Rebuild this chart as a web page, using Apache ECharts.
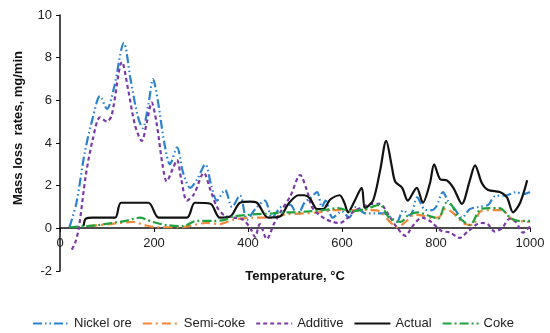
<!DOCTYPE html>
<html><head><meta charset="utf-8">
<script src="https://cdn.jsdelivr.net/npm/echarts@6/dist/echarts.min.js"></script>
<style>html,body{margin:0;padding:0;background:#fff}#c{width:550px;height:333px}</style>
</head><body><div id="c"></div>
<script>
var xTicks = [0, 200, 400, 600, 800, 1000];
var yTicks = [-2, 0, 2, 4, 6, 8, 10];

var nickelT = [20,35,53,70,85,100,115,136,150,165,176,188,198,208,222,234,249,262,277,292,309,322,334,351,366,383,398,415,436,451,470,490,505,520,532,547,557,565,580,600,615,630,650,670,690,705,717,730,745,760,775,790,800,815,825,840,855,872,890,911,925,951,970,985,1000];
var nickelV = [0.05,1.2,3.6,5.2,6.2,5.6,6.6,8.7,7.0,5.3,4.7,5.8,7.0,6.0,4.0,3.0,3.8,2.6,1.9,2.3,3.0,2.0,1.3,1.8,1.0,1.55,0.4,0.9,1.3,0.5,1.0,1.1,0.6,1.2,1.4,1.7,1.0,1.3,0.5,0.8,0.5,1.0,0.7,0.7,0.7,0.5,0.3,0.85,0.6,1.45,0.9,0.85,1.0,1.7,1.3,0.9,0.5,0.9,1.0,1.1,1.5,1.55,1.7,1.6,1.7];

var semiT = [60,106,156,180,206,255,312,340,368,411,450,480,520,550,580,620,660,680,700,717,735,755,770,790,805,819,835,850,862,878,895,920,940,960,975,1000];
var semiV = [0.1,0.2,0.3,0.15,0.05,0.05,0.25,0.2,0.4,0.5,0.5,0.65,0.7,0.75,0.85,0.85,0.85,0.8,0.35,0.05,0.3,0.65,0.6,0.5,0.5,0.9,0.75,0.4,0.2,0.15,0.8,0.85,0.85,0.45,0.35,0.3];

var additiveT = [25,32,40,55,70,85,100,110,132,145,160,174,185,195,205,218,227,240,249,258,270,285,306,320,334,350,370,390,405,415,425,440,455,470,490,511,525,536,548,564,580,595,610,625,645,660,680,700,715,735,750,770,790,810,830,850,870,895,910,925,940,957,970,985,1000];
var additiveV = [-1.0,-0.7,0.0,2.5,4.2,5.2,5.0,5.3,7.8,6.5,4.8,4.1,5.0,5.9,5.0,3.0,2.2,2.8,3.2,2.3,1.3,1.6,2.6,1.8,1.0,0.6,0.5,0.4,0.0,-0.4,0.2,-0.5,0.2,0.8,1.5,2.5,1.8,1.0,0.7,0.45,0.3,0.25,0.45,0.8,1.0,1.15,1.15,0.6,0.1,-0.35,0.1,0.5,0.3,-0.1,-0.2,-0.45,-0.1,0.25,0.2,-0.15,0.0,0.45,0.3,-0.2,0.1];

var actualT = [50,55,70,117,130,188,210,270,287,320,340,362,383,404,419,443,468,486,507,520,532,547,560,575,595,605,613,625,642,649,666,681,694,706,713,728,740,759,772,787,796,809,823,837,855,872,883,898,911,936,951,964,979,994];
var actualV = [0.1,0.45,0.5,0.5,1.2,1.2,0.5,0.5,1.2,1.15,0.5,0.55,1.2,1.25,1.2,0.5,0.55,1.15,1.55,1.55,1.4,0.9,0.9,1.35,1.55,1.2,0.75,1.2,1.9,0.95,1.3,2.7,4.1,2.9,2.2,1.9,1.3,1.9,1.2,2.1,3.0,2.3,2.25,1.9,1.15,2.25,2.95,2.1,1.8,1.7,1.45,0.75,1.2,2.25];

var cokeT = [20,53,80,110,140,156,170,185,198,227,262,291,326,350,368,411,453,480,500,530,560,592,620,650,680,700,725,740,760,790,805,822,833,845,860,872,895,915,935,958,975,1000];
var cokeV = [0.05,0.1,0.15,0.25,0.35,0.45,0.5,0.4,0.3,0.15,0.1,0.35,0.35,0.4,0.55,0.65,0.7,0.75,0.75,0.8,0.85,0.95,0.8,0.9,1.1,0.5,0.3,0.6,0.75,0.55,0.45,1.2,1.1,0.6,0.3,0.15,0.9,0.95,0.95,0.5,0.35,0.35];

function pairs(t, v) { return t.map(function (x, i) { return [x, v[i]]; }); }

var font = 'Liberation Sans, Arial, sans-serif';
function mk(name, t, v, color, type, smooth) {
  return {
    name: name, type: 'line', data: pairs(t, v), symbol: 'none', smooth: smooth,
    lineStyle: { color: color, width: 2.2, type: type }, itemStyle: { color: color }
  };
}

var chart = echarts.init(document.getElementById('c'));
chart.setOption({
  animation: false,
  backgroundColor: '#fff',
  grid: { left: 60, right: 20, top: 15, bottom: 62, containLabel: false },
  xAxis: {
    type: 'value', min: xTicks[0], max: xTicks[xTicks.length - 1], interval: 200,
    position: 'bottom', offset: -43,
    name: 'Temperature, °C', nameLocation: 'middle', nameGap: 42,
    nameTextStyle: { fontFamily: font, fontSize: 13, fontWeight: 'bold', color: '#111' },
    axisLine: { onZero: false, lineStyle: { color: '#111', width: 1.5 } },
    axisTick: { show: true, length: 4, inside: false, lineStyle: { color: '#111' } },
    axisLabel: { fontFamily: font, fontSize: 13, color: '#222', margin: 9, formatter: function (v) { return String(v); } },
    splitLine: { show: false }
  },
  yAxis: {
    type: 'value', min: yTicks[0], max: yTicks[yTicks.length - 1], interval: 2,
    name: 'Mass loss  rates, mg/min', nameLocation: 'middle', nameGap: 35,
    nameTextStyle: { fontFamily: font, fontSize: 13, fontWeight: 'bold', color: '#111', padding: [0, 0, 0, 30] },
    axisLine: { show: true, lineStyle: { color: '#111', width: 1.5 } },
    axisTick: { show: true, length: 4, lineStyle: { color: '#111' } },
    axisLabel: { fontFamily: font, fontSize: 13, color: '#222', margin: 8 },
    splitLine: { show: false }
  },
  legend: {
    top: 312, left: 27, itemWidth: 36, itemHeight: 10, itemGap: 10,
    itemStyle: { opacity: 0 },
    textStyle: { fontFamily: font, fontSize: 13, color: '#222' },
    data: ['Nickel ore', 'Semi-coke', 'Additive', 'Actual', 'Coke']
  },
  series: [
    mk('Nickel ore', nickelT, nickelV, '#2B83CF', [9, 3, 1.5, 3, 1.5, 3], 0.3),
    mk('Semi-coke', semiT, semiV, '#F0873A', [9, 4, 2, 4], 0.3),
    mk('Additive', additiveT, additiveV, '#7A3BA8', [4, 3], 0.3),
    mk('Actual', actualT, actualV, '#111111', 'solid', 0.3),
    mk('Coke', cokeT, cokeV, '#1FA23E', [9, 3, 2, 3], 0.3)
  ]
});
</script></body></html>
